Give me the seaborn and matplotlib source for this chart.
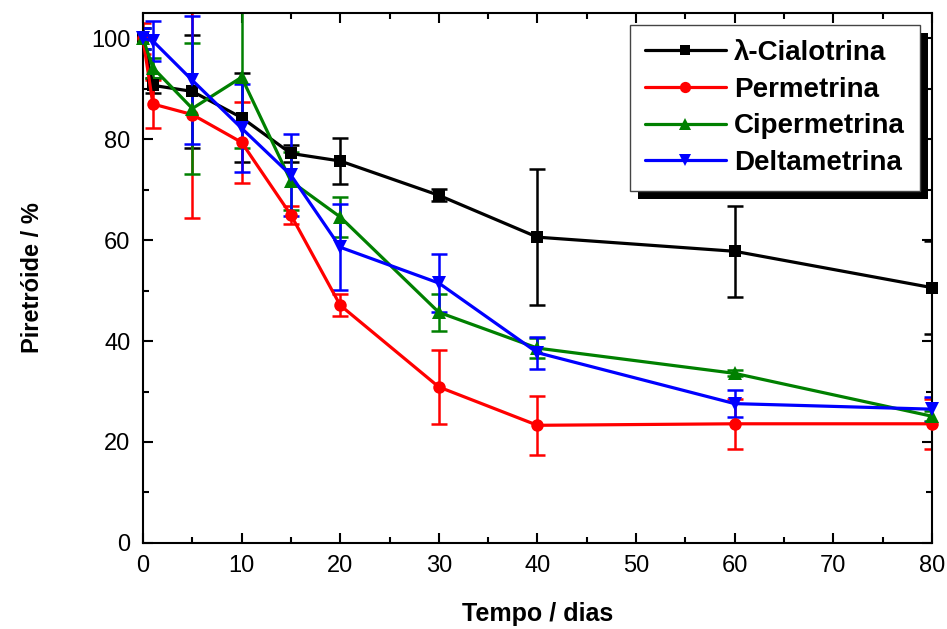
import matplotlib
matplotlib.use("Agg")
import matplotlib.pyplot as plt
from matplotlib.lines import Line2D
from matplotlib.patches import Rectangle
from matplotlib.ticker import MultipleLocator
import seaborn as sns
import pandas as pd

# dados
dias = [0, 1, 5, 10, 15, 20, 30, 40, 60, 80]
cialotrina = [100, 90.7, 89.5, 84.3, 77.2, 75.7, 68.9, 60.6, 57.8, 50.6]
cialotrina_err = [2, 1.5, 11.2, 8.8, 1.6, 4.5, 1.2, 13.5, 9.0, 9.2]
permetrina = [100, 87.0, 84.9, 79.4, 65.0, 47.1, 30.9, 23.3, 23.6, 23.6]
permetrina_err = [3, 4.7, 20.5, 8.0, 1.8, 2.2, 7.3, 5.8, 5.0, 5.0]
cipermetrina = [100, 94.2, 86.1, 92.3, 71.7, 64.6, 45.7, 38.6, 33.6, 25.1]
cipermetrina_err = [2, 2, 13, 14, 5.7, 4, 3.7, 2, 0.6, 1]
deltametrina = [100, 99.5, 91.7, 82.2, 72.9, 58.6, 51.5, 37.7, 27.6, 26.5]
deltametrina_err = [2, 4, 12.7, 8.7, 8.1, 8.5, 5.7, 3.2, 2.6, 2.5]

nomes = ['λ-Cialotrina', 'Permetrina', 'Cipermetrina', 'Deltametrina']
cores = ['black', 'red', 'green', 'blue']
marcadores = ['s', 'o', '^', 'v']
tamanhos = [8, 9, 9.5, 9.5]

valores = [cialotrina, permetrina, cipermetrina, deltametrina]
erros = [cialotrina_err, permetrina_err, cipermetrina_err, deltametrina_err]

linhas = []
for nome, v, e in zip(nomes, valores, erros):
    for d, y, err in zip(dias, v, e):
        linhas.append({'dias': d, 'valor': y, 'erro': err, 'serie': nome})
df = pd.DataFrame(linhas)

sns.set_style('ticks', {'axes.edgecolor': 'black', 'text.color': 'black',
                        'xtick.color': 'black', 'ytick.color': 'black',
                        'axes.labelcolor': 'black'})
plt.rcParams['font.family'] = ['Liberation Sans', 'DejaVu Sans']

fig = plt.figure(figsize=(9.47, 6.29), dpi=100)
ax = fig.add_axes([0.151, 0.137, 0.833, 0.842])

for nome, cor in zip(nomes, cores):
    sub = df[df['serie'] == nome]
    ax.errorbar(sub['dias'], sub['valor'], yerr=sub['erro'], fmt='none',
                ecolor=cor, elinewidth=1.8, capsize=6, capthick=1.8, zorder=2)

sns.lineplot(data=df, x='dias', y='valor', hue='serie', style='serie',
             palette=dict(zip(nomes, cores)), markers=dict(zip(nomes, marcadores)),
             dashes=False, linewidth=2.3, legend=False, ax=ax, zorder=3)

for line, ms in zip(ax.lines[-4:], tamanhos):
    line.set_markeredgecolor(line.get_color())
    line.set_markeredgewidth(0)
    line.set_markersize(ms)
    line.set_clip_on(False)

ax.set_xlim(0, 80)
ax.set_ylim(0, 105)
ax.xaxis.set_major_locator(MultipleLocator(10))
ax.xaxis.set_minor_locator(MultipleLocator(5))
ax.yaxis.set_major_locator(MultipleLocator(20))
ax.yaxis.set_minor_locator(MultipleLocator(10))
ax.tick_params(which='both', direction='in', top=True, right=True, width=1.5,
               color='black', labelcolor='black')
ax.tick_params(which='major', length=7, labelsize=17, pad=9)
ax.tick_params(which='minor', length=4)
for s in ax.spines.values():
    s.set_linewidth(1.5)
    s.set_color('black')

ax.set_xlabel('Tempo / dias', fontsize=18, fontweight='bold', labelpad=18, color='black')
ax.set_ylabel('Piretróide / %', fontsize=17, fontweight='bold', labelpad=34, color='black')

handles = [Line2D([], [], color=c, marker=m, markersize=ms * 0.9, lw=2.3, mew=0)
           for c, m, ms in zip(cores, marcadores, tamanhos)]
leg = ax.legend(handles, nomes, loc='upper right', bbox_to_anchor=(0.985, 0.978),
                borderaxespad=0, fancybox=False, framealpha=1, edgecolor='#444444',
                prop={'weight': 'bold', 'size': 20}, handlelength=2.9,
                handletextpad=0.3, labelspacing=0.38, borderpad=0.55, numpoints=1)
leg.get_frame().set_linewidth(1.0)
leg.set_zorder(6)
for t in leg.get_texts():
    t.set_color('black')

# sombra preta do quadro da legenda
fig.canvas.draw()
bb = leg.get_window_extent()
inv = ax.transAxes.inverted()
(x0, y0), (x1, y1) = inv.transform([(bb.x0 + 8, bb.y0 - 8), (bb.x1 + 8, bb.y1 - 8)])
ax.add_patch(Rectangle((x0, y0), x1 - x0, y1 - y0, transform=ax.transAxes,
                       facecolor='black', edgecolor='none', zorder=5.5, clip_on=False))

fig.savefig('out.png', dpi=100)
